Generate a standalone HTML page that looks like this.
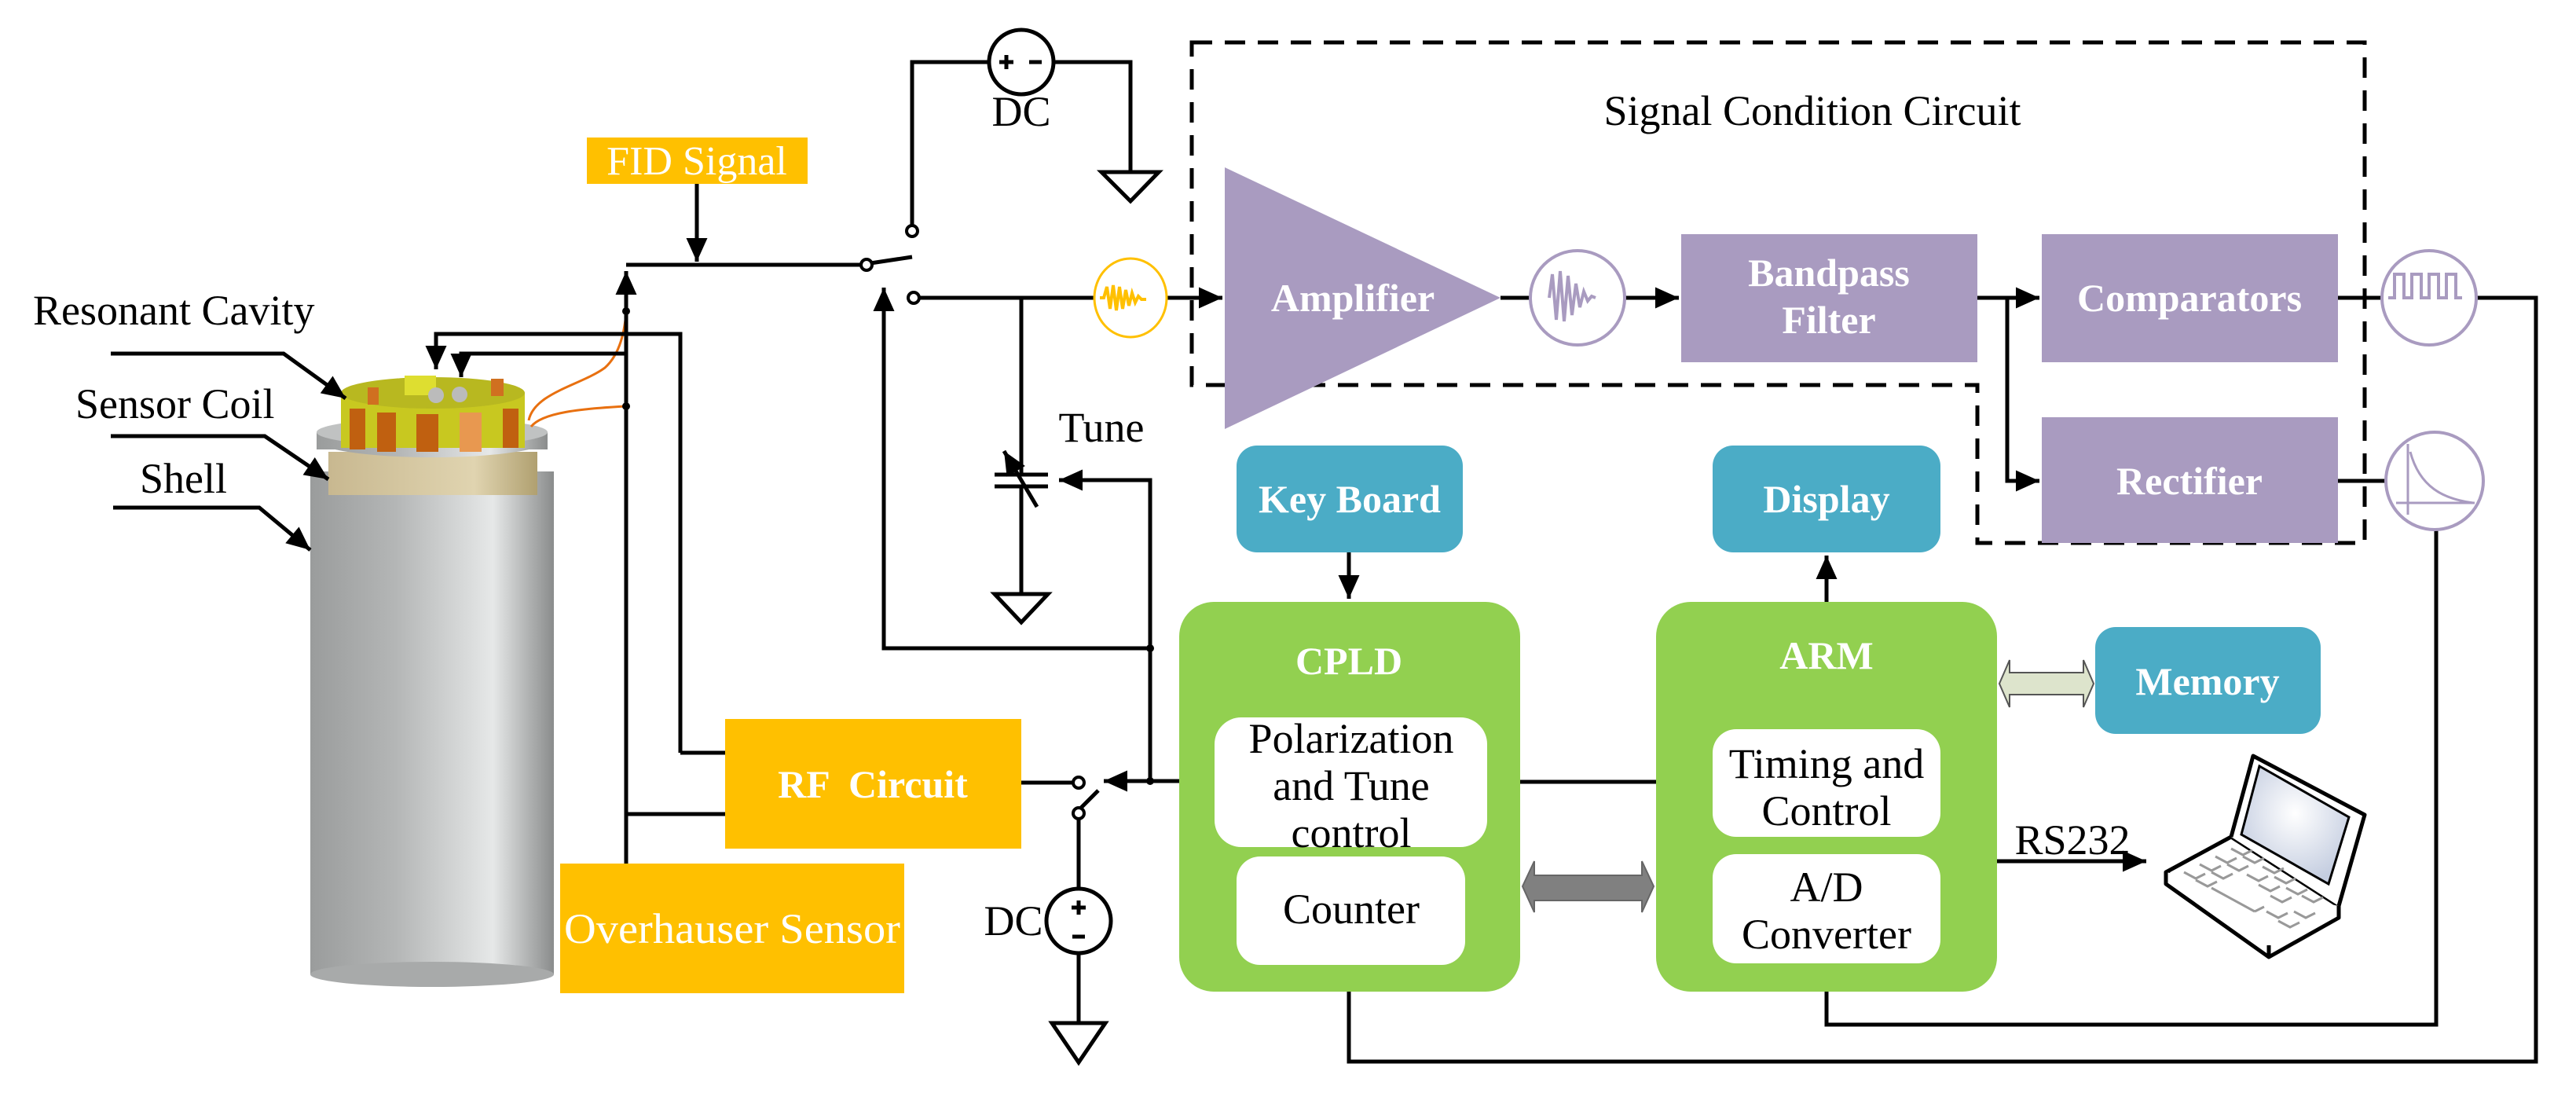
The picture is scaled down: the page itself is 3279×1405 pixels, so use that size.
<!DOCTYPE html>
<html><head><meta charset="utf-8"><style>
html,body{margin:0;padding:0;background:#fff;}
svg{display:block;}
</style></head><body>
<svg width="3279" height="1405" viewBox="0 0 3279 1405" xmlns="http://www.w3.org/2000/svg" font-family="'Liberation Serif','DejaVu Serif',serif">
<defs>
<marker id="ah" viewBox="0 0 10 10" refX="10" refY="5" markerWidth="7" markerHeight="6" orient="auto-start-reverse" markerUnits="strokeWidth"><path d="M0,0.5 L10,5 L0,9.5 z" fill="#000"/></marker>
<linearGradient id="shell" x1="0" x2="1" y1="0" y2="0">
<stop offset="0" stop-color="#9a9c9c"/><stop offset="0.35" stop-color="#b4b6b6"/><stop offset="0.75" stop-color="#e6e8e8"/><stop offset="1" stop-color="#8a8c8c"/></linearGradient>
<linearGradient id="coil" x1="0" x2="1"><stop offset="0" stop-color="#c8b890"/><stop offset="0.7" stop-color="#e0d4b0"/><stop offset="1" stop-color="#b0a070"/></linearGradient>
<radialGradient id="scr" cx="0.5" cy="0.4" r="0.6"><stop offset="0" stop-color="#fff"/><stop offset="1" stop-color="#c4cde0"/></radialGradient>
</defs>
<g stroke="#000" stroke-width="6" fill="none">
<path d="M1517,54 H3010 V691 H2517 V490 H1517 Z" stroke-dasharray="26,16" stroke-width="5"/>
</g>

<rect x="395" y="600" width="310" height="640" fill="url(#shell)"/>
<ellipse cx="550" cy="1240" rx="155" ry="16" fill="#a8aaaa"/>
<rect x="418" y="575" width="266" height="55" fill="url(#coil)"/>
<ellipse cx="550" cy="560" rx="147" ry="22" fill="url(#shell)"/>
<rect x="403" y="550" width="294" height="22" fill="url(#shell)"/>
<ellipse cx="550" cy="550" rx="147" ry="18" fill="#c0c2c2"/>
<g>
<rect x="434" y="500" width="234" height="70" fill="#c8c820"/>
<rect x="445" y="520" width="20" height="52" fill="#c06010"/>
<rect x="480" y="525" width="24" height="50" fill="#c06010"/>
<rect x="530" y="527" width="28" height="48" fill="#c06010"/>
<rect x="585" y="525" width="28" height="50" fill="#e89850"/>
<rect x="640" y="520" width="20" height="50" fill="#c06010"/>
<ellipse cx="551" cy="500" rx="117" ry="20" fill="#b8b820"/>
<rect x="515" y="478" width="40" height="25" fill="#dede30"/>
<circle cx="555" cy="503" r="10" fill="#bbb"/><circle cx="585" cy="502" r="10" fill="#bbb"/>
<rect x="468" y="493" width="14" height="22" fill="#d07020"/><rect x="625" y="482" width="16" height="22" fill="#d07020"/>
</g>
<path d="M673,535 C680,500 740,490 770,468 C790,450 795,420 797,398" stroke="#e87010" stroke-width="3" fill="none"/>
<path d="M676,543 C690,525 740,520 797,517" stroke="#e87010" stroke-width="3" fill="none"/>

<g stroke="#000" stroke-width="5" fill="none">
<path d="M141,450 H361 L440,507" marker-end="url(#ah)"/>
<path d="M141,555 H337 L418,610" marker-end="url(#ah)"/>
<path d="M144,646 H330 L395,700" marker-end="url(#ah)"/>
<path d="M866,958 V425 H555 V470" marker-end="url(#ah)"/>
<path d="M866,958 H923"/>
<path d="M797,450 H587 V480" marker-end="url(#ah)"/>
<path d="M797,1099 V345" marker-end="url(#ah)"/>
<path d="M797,1036 H923"/>
<path d="M887,234 V333" marker-end="url(#ah)"/>
<path d="M797,337 H1096"/>
<path d="M1108,335 L1161,327"/>
<path d="M1161,288 V79 H1259 M1341,79 H1439 V219"/>
<path d="M1402,219 H1475 L1439,256 Z"/>
<circle cx="1300" cy="79" r="41"/>
<path d="M1170,379 H1392 M1486,379 H1556" marker-end="url(#ah)"/>
<path d="M1300,379 V604 M1300,619 V756"/>
<path d="M1266,604 H1334 M1266,619 H1334"/>
<path d="M1320,645 L1278,574" marker-end="url(#ah)"/>
<path d="M1266,756 H1334 L1300,792 Z"/>
<path d="M1464,994 V611 H1348" marker-end="url(#ah)"/>
<path d="M1464,825 H1125 V366" marker-end="url(#ah)"/>
<path d="M1548,994 H1405" marker-end="url(#ah)"/>
<path d="M1300,996 H1366"/>
<path d="M1375,1029 L1398,1006"/>
<path d="M1373,1041 V1131 M1373,1213 V1302"/>
<circle cx="1373" cy="1172" r="41"/>
<path d="M1339,1302 H1407 L1373,1352 Z"/>
<path d="M1910,379 H1947 M2069,379 H2137" marker-end="url(#ah)"/>
<path d="M2517,379 H2596" marker-end="url(#ah)"/>
<path d="M2555,379 V612 H2596" marker-end="url(#ah)"/>
<path d="M2976,379 H3032 M2976,612 H3039"/>
<path d="M3152,379 H3228 V1351 H1717 V1230" marker-end="url(#ah)"/>
<path d="M3101,672 V1304 H2325 V1230" marker-end="url(#ah)"/>
<path d="M1717,703 V762" marker-end="url(#ah)"/>
<path d="M2325,766 V707" marker-end="url(#ah)"/>
<path d="M2180,995 H1897" marker-end="url(#ah)"/>
<path d="M2542,1096 H2732" marker-end="url(#ah)"/>
</g>
<g fill="#fff" stroke="#000" stroke-width="4">
<circle cx="1103" cy="337" r="7"/><circle cx="1161" cy="294" r="7"/><circle cx="1163" cy="379" r="7"/>
<circle cx="1373" cy="996" r="7"/><circle cx="1373" cy="1035" r="7"/>
</g>
<g fill="#000"><circle cx="797" cy="396" r="5"/><circle cx="797" cy="517" r="5"/><circle cx="1464" cy="825" r="5"/><circle cx="1464" cy="994" r="5"/></g>
<g stroke="#000" stroke-width="5">
<path d="M1272,79 h18 M1281,70 v18 M1310,79 h16"/>
<path d="M1364,1155 h18 M1373,1146 v18 M1365,1192 h16"/>
</g>

<ellipse cx="1439" cy="379" rx="46" ry="50" fill="#fff" stroke="#ffc000" stroke-width="3"/>
<path d="M1400,379 l5,0 l4,-14 l4,28 l4,-30 l4,32 l4,-30 l4,28 l4,-24 l4,20 l4,-16 l4,12 l4,-8 l4,4 l6,0" stroke="#ffc000" stroke-width="4" fill="none"/>

<path d="M1559,213 L1910,379 L1559,546 Z" fill="#a99bc0"/>
<g stroke="#a99bc0" stroke-width="4" fill="#fff">
<circle cx="2008" cy="379" r="60"/><circle cx="3092" cy="379" r="60"/><circle cx="3099" cy="612" r="62"/>
</g>
<path d="M1972,379 l4,-30 l5,58 l5,-62 l5,64 l5,-58 l5,50 l5,-40 l5,30 l5,-20 l5,12 l5,-6 l5,2" stroke="#a99bc0" stroke-width="4" fill="none"/>
<path d="M3040,379 h8 v-30 h12 v30 h10 v-30 h12 v30 h10 v-30 h12 v30 h10 v-30 h12 v30 h8" stroke="#a99bc0" stroke-width="4" fill="none"/>
<path d="M3065,655 V565 M3050,640 H3150 M3068,575 C3080,620 3110,635 3148,640" stroke="#a99bc0" stroke-width="3" fill="none"/>

<g fill="#a99bc0"><rect x="2140" y="298" width="377" height="163"/><rect x="2599" y="298" width="377" height="163"/><rect x="2599" y="531" width="377" height="160"/></g>

<g fill="#ffc000"><rect x="747" y="175" width="281" height="59"/><rect x="923" y="915" width="377" height="165"/><rect x="713" y="1099" width="438" height="165"/></g>

<g fill="#4bacc6"><rect x="1574" y="567" width="288" height="136" rx="26"/><rect x="2180" y="567" width="290" height="136" rx="26"/><rect x="2667" y="798" width="287" height="136" rx="26"/></g>

<g fill="#92d050"><rect x="1501" y="766" width="434" height="496" rx="44"/><rect x="2108" y="766" width="434" height="496" rx="44"/></g>
<g fill="#fff"><rect x="1546" y="913" width="347" height="165" rx="34"/><rect x="1574" y="1090" width="291" height="138" rx="30"/><rect x="2180" y="928" width="290" height="137" rx="30"/><rect x="2180" y="1087" width="290" height="139" rx="30"/></g>

<path d="M1938,1128 L1953,1096 V1114 H2090 V1096 L2105,1128 L2090,1161 V1146 H1953 V1161 Z" fill="#808080" stroke="#666" stroke-width="2"/>
<path d="M2545,870 L2558,840 V856 H2652 V840 L2665,870 L2652,900 V884 H2558 V900 Z" fill="#dde4cc" stroke="#555" stroke-width="2"/>

<g stroke="#000" stroke-width="5" fill="#fff" stroke-linejoin="round">
<path d="M2757,1110 L2840,1065 L2977,1153 L2888,1203 Z"/>
<path d="M2757,1110 V1125 L2888,1218 L2977,1168 V1153"/>
<path d="M2888,1203 V1218"/>
<path d="M2840,1065 L2868,962 L3010,1037 L2977,1153"/>
</g>
<path d="M2876,975 L2990,1040 L2964,1125 L2853,1062 Z" fill="url(#scr)" stroke="#000" stroke-width="3"/>
<g stroke="#999" stroke-width="3" fill="none">
<path d="M2780,1110 l15,8 l12,-6 M2800,1100 l15,8 l12,-6 M2820,1090 l15,8 l12,-6 M2840,1080 l15,8 l12,-6 M2795,1120 l15,8 l12,-6 M2815,1110 l15,8 l12,-6 M2835,1100 l15,8 l12,-6 M2855,1090 l15,8 l12,-6 M2860,1113 l15,8 l12,-6 M2880,1103 l15,8 l12,-6 M2875,1126 l15,8 l12,-6 M2895,1116 l15,8 l12,-6 M2890,1140 l15,8 l12,-6 M2910,1130 l15,8 l12,-6 M2930,1140 l15,8 l12,-6 M2815,1130 L2870,1160 M2870,1160 l12,-6 M2885,1160 l15,8 l12,-6 M2900,1172 l15,8 l12,-6 M2920,1160 l15,8 l12,-6"/>
</g>

<g fill="#000" font-size="54">
<text x="42" y="413">Resonant Cavity</text>
<text x="96" y="532">Sensor Coil</text>
<text x="178" y="627">Shell</text>
<text x="1300" y="160" text-anchor="middle">DC</text>
<text x="1290" y="1190" text-anchor="middle">DC</text>
<text x="1402" y="562" text-anchor="middle">Tune</text>
<text x="2307" y="159" text-anchor="middle">Signal Condition Circuit</text>
<text x="2638" y="1087" text-anchor="middle">RS232</text>
<text x="1720" y="958" text-anchor="middle">Polarization</text>
<text x="1720" y="1018" text-anchor="middle">and Tune</text>
<text x="1720" y="1078" text-anchor="middle">control</text>
<text x="1720" y="1175" text-anchor="middle">Counter</text>
<text x="2325" y="990" text-anchor="middle">Timing and</text>
<text x="2325" y="1050" text-anchor="middle">Control</text>
<text x="2325" y="1147" text-anchor="middle">A/D</text>
<text x="2325" y="1207" text-anchor="middle">Converter</text>
</g>
<g fill="#fff" font-size="52">
<text x="887" y="222" text-anchor="middle">FID Signal</text>
<text x="718" y="1200" font-size="54" textLength="428" lengthAdjust="spacingAndGlyphs">Overhauser Sensor</text>
</g>
<g fill="#fff" font-size="50" font-weight="bold" text-anchor="middle">
<text x="1722" y="396">Amplifier</text>
<text x="2328" y="364">Bandpass</text>
<text x="2328" y="424">Filter</text>
<text x="2787" y="396">Comparators</text>
<text x="2787" y="629">Rectifier</text>
<text x="1111" y="1015" xml:space="preserve">RF  Circuit</text>
<text x="1718" y="652">Key Board</text>
<text x="2325" y="652">Display</text>
<text x="2810" y="884">Memory</text>
<text x="1717" y="858">CPLD</text>
<text x="2325" y="851">ARM</text>
</g>
</svg>
</body></html>
